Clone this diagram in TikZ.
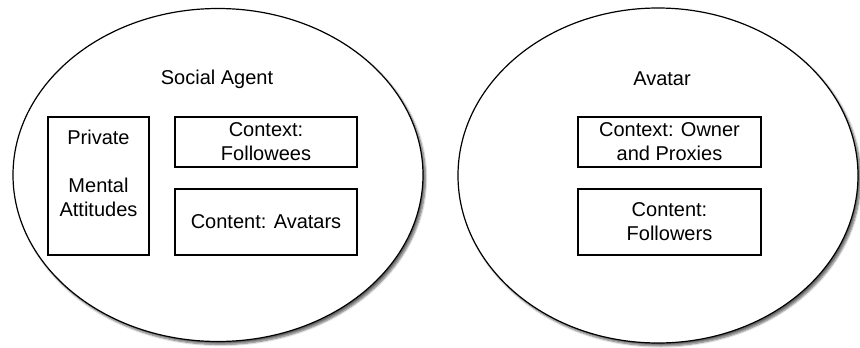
\documentclass[tikz,border=0pt]{standalone}
\usepackage{fontspec}
\setmainfont{Liberation Sans}
\usetikzlibrary{shapes.geometric,shadows.blur}
\begin{document}
\begin{tikzpicture}[x=1pt,y=-1pt,
  oval/.style={draw=black,line width=1.2pt,fill=white,ellipse,inner sep=0pt,
    blur shadow={shadow xshift=2.5pt,shadow yshift=-3pt,shadow blur steps=6,shadow opacity=60}},
  boxn/.style={draw=black,line width=1.3pt,rectangle,inner sep=0pt},
  txt/.style={font=\fontsize{20}{24}\selectfont,align=center,inner sep=0pt}]
\useasboundingbox (0,0) rectangle (860,348);
% left ellipse
\node[oval,minimum width=410pt,minimum height=333pt] (sa) at (218,175) {};
\node[txt] (satitle) at (217,79) {Social Agent};
\node[boxn,minimum width=101pt,minimum height=138pt] (priv) at (98.5,186) {};
\node[txt] (privtxt) at (98.5,173) {Private\\[24pt]Mental\\Attitudes};
\node[boxn,minimum width=182pt,minimum height=50pt,txt] (ctxf) at (266,142) {Context:\\Followees};
\node[boxn,minimum width=182pt,minimum height=66pt,txt] (conta) at (266,222) {Content: Avatars};
% right ellipse
\node[oval,minimum width=400pt,minimum height=335pt] (av) at (658,175.5) {};
\node[txt] (avtitle) at (662,79) {Avatar};
\node[boxn,minimum width=183pt,minimum height=50pt,txt] (ctxo) at (669.5,142) {Context: Owner\\and Proxies};
\node[boxn,minimum width=183pt,minimum height=66pt,txt] (contf) at (669.5,222) {Content:\\Followers};
\end{tikzpicture}
\end{document}
